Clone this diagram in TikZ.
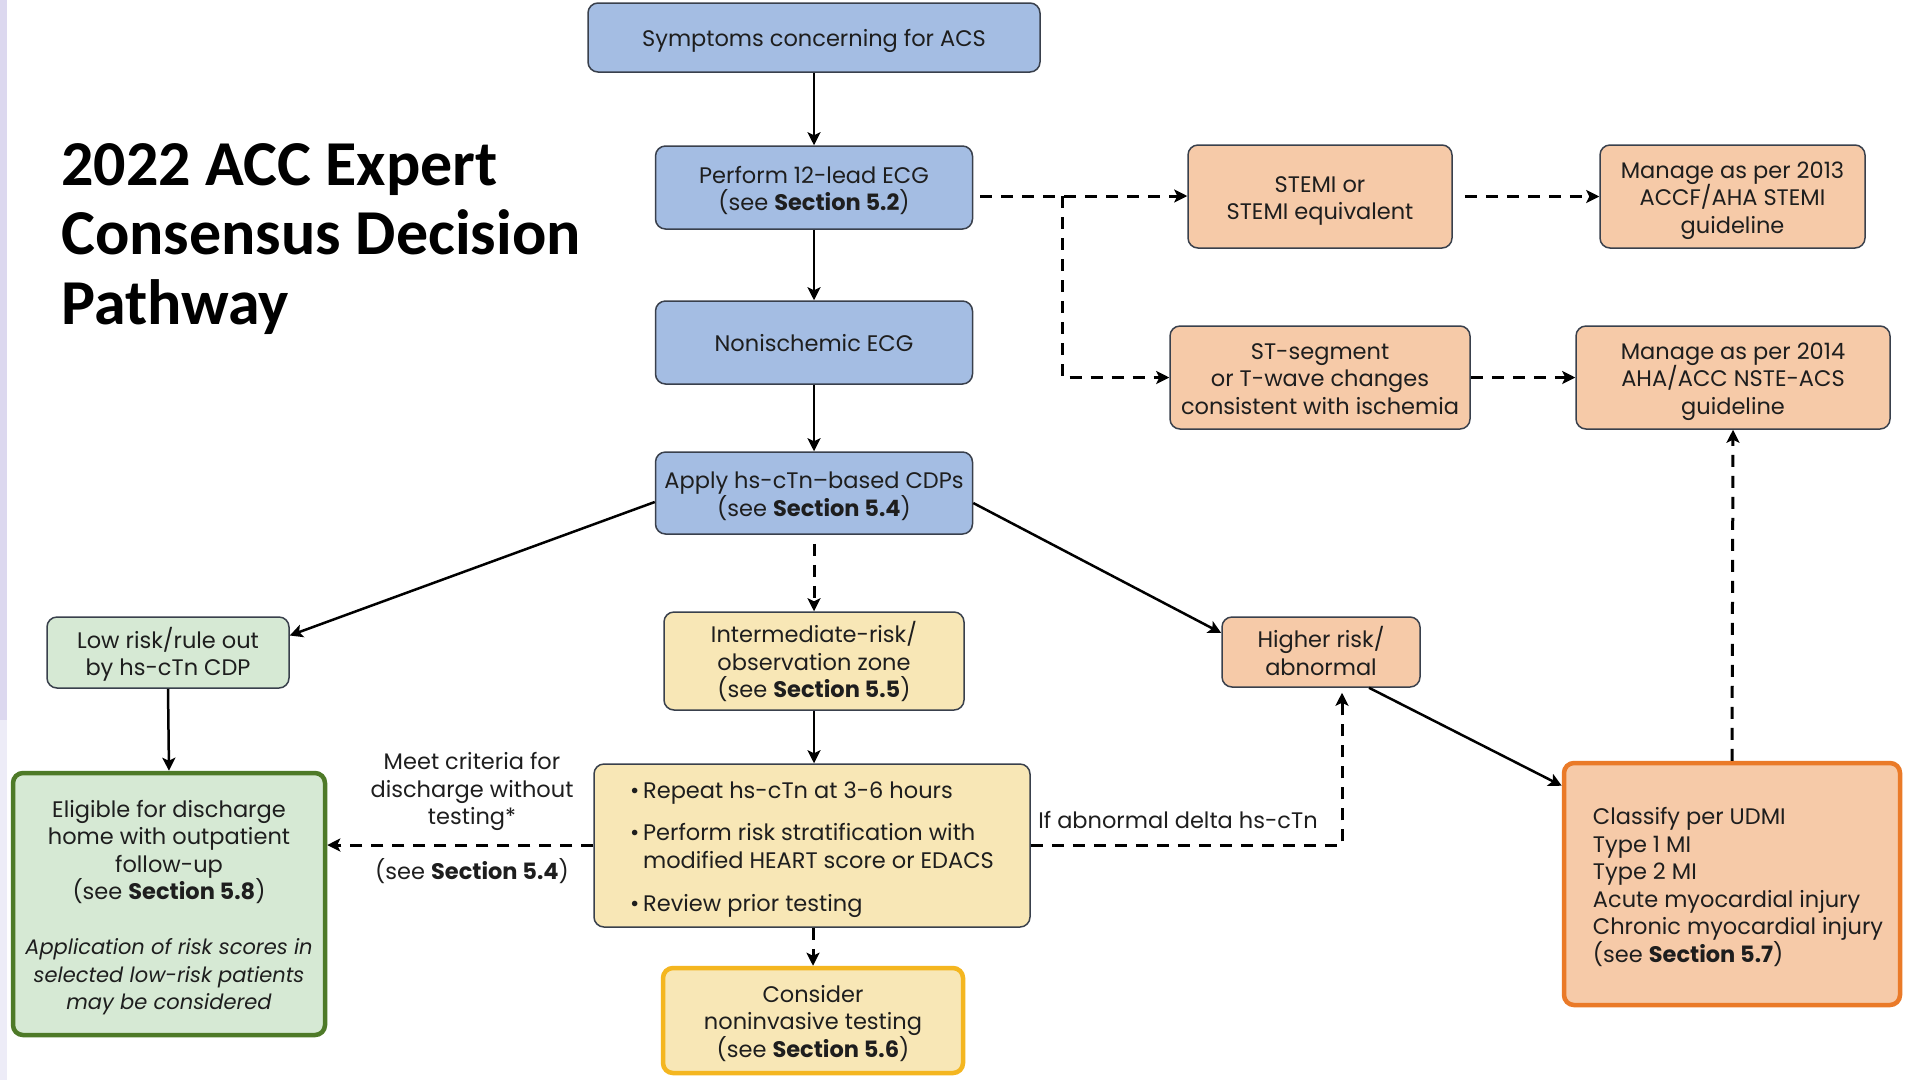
\documentclass[tikz,border=0pt]{standalone}
\usepackage{fontspec}
\setmainfont{Poppins}
\newfontfamily\titlefont{Carlito}
\usetikzlibrary{arrows.meta,calc}

\definecolor{bluefill}{HTML}{A4BDE3}
\definecolor{peachfill}{HTML}{F6CAA8}
\definecolor{greenfill}{HTML}{D6E9D4}
\definecolor{yellowfill}{HTML}{F8E7B6}
\definecolor{thinline}{HTML}{39404C}
\definecolor{greenline}{HTML}{4E7A28}
\definecolor{goldline}{HTML}{F4B620}
\definecolor{orangeline}{HTML}{EA7A28}
\definecolor{inkcol}{HTML}{1E1E1E}
\definecolor{stripcol}{HTML}{DCD8EF}

\newcommand\boxfont{\fontsize{22.5}{27.5}\selectfont}
\newcommand\notefont{\fontsize{21}{27.5}\selectfont\itshape}
% struts giving every text block the same top and bottom
\newcommand\ts{\rule{0pt}{25pt}}
\newcommand\botstrut{\rule[-6.2pt]{0pt}{6.2pt}}

\begin{document}
\begin{tikzpicture}[x=1pt,y=-1pt,
  box/.style={draw=thinline, line width=1.5pt, rounded corners=10pt,
    align=center, inner sep=0pt, font=\boxfont, text=inkcol,
    execute at end node=\botstrut},
  bluebox/.style={box, fill=bluefill},
  peachbox/.style={box, fill=peachfill},
  greenbox/.style={box, fill=greenfill},
  yellowbox/.style={box, fill=yellowfill},
  lbl/.style={align=center, inner sep=0pt, font=\boxfont, text=inkcol,
    execute at end node=\botstrut},
  arr/.style={line width=2.5pt, draw=black,
    -{Stealth[length=13pt,width=13pt,inset=3pt]}},
  dsh/.style={line width=3pt, draw=black, dash pattern=on 12pt off 9pt,
    -{Stealth[length=13pt,width=13pt,inset=3pt]}}
]
\useasboundingbox (0,0) rectangle (1905,1080);
\fill[white] (0,0) rectangle (1905,1080);
% lavender edge strip
\fill[stripcol] (0,0) rectangle (7,720);
\fill[stripcol!50] (0,720) rectangle (7,1080);

% title
\node[anchor=north west, align=left, inner sep=0pt, text=black,
  font=\titlefont\bfseries\fontsize{64}{69.5}\selectfont] (title) at (61,143)
  {2022 ACC Expert\\Consensus Decision\\Pathway};

% main column
\node[bluebox, minimum width=452pt, minimum height=69pt] (sym) at (814,37.5)
  {\ts Symptoms concerning for ACS};
\node[bluebox, minimum width=317pt, minimum height=83pt] (ecg) at (814,187.5)
  {\ts Perform 12-lead ECG\\(see \textbf{Section 5.2})};
\node[bluebox, minimum width=317pt, minimum height=83pt] (noni) at (814,342.5)
  {\ts Nonischemic ECG};
\node[bluebox, minimum width=317pt, minimum height=82pt] (apply) at (814,493)
  {\ts Apply hs-cTn--based CDPs\\(see \textbf{Section 5.4})};
\node[yellowbox, minimum width=300pt, minimum height=98pt] (inter) at (814,661)
  {\ts Intermediate-risk/\\observation zone\\(see \textbf{Section 5.5})};
\node[yellowbox, minimum width=436pt, minimum height=163pt, align=left] (bullets) at (812,845.5)
  {\ts\textbullet\,Repeat hs-cTn at 3-6 hours\\[15pt]
   \textbullet\,Perform risk stratification with\\
   \phantom{\textbullet\,}modified HEART score or EDACS\hspace*{26pt}\\[16pt]
   \textbullet\,Review prior testing};
\node[yellowbox, draw=goldline, line width=4.5pt, minimum width=300pt, minimum height=105pt] (consider) at (813,1020.5)
  {\ts Consider\\noninvasive testing\\(see \textbf{Section 5.6})};

% low-risk branch
\node[greenbox, minimum width=242pt, minimum height=71pt] (low) at (168,652.5)
  {\ts Low risk/rule out\\by hs-cTn CDP};
\node[greenbox, draw=greenline, line width=4.5pt, minimum width=312pt, minimum height=262pt] (elig) at (169,904)
  {\ts Eligible for discharge\\home with outpatient\\follow-up\\(see \textbf{Section 5.8})\\[27.5pt]
   {\notefont Application of risk scores in}\\{\notefont selected low-risk patients}\\{\notefont may be considered}};

% high-risk branch
\node[peachbox, minimum width=198pt, minimum height=70pt] (higher) at (1321,652)
  {\ts Higher risk/\\abnormal};
\node[peachbox, draw=orangeline, line width=4.5pt, minimum width=336pt, minimum height=242pt, align=left] (classify) at (1732,884)
  {\ts\hspace*{12pt}Classify per UDMI\\\hspace*{12pt}Type 1 MI\\\hspace*{12pt}Type 2 MI\\\hspace*{12pt}Acute myocardial injury\\\hspace*{12pt}Chronic myocardial injury\\\hspace*{12pt}(see \textbf{Section 5.7})};

% ischemic ECG branch
\node[peachbox, minimum width=264pt, minimum height=103pt] (stemi) at (1320,196.5)
  {\ts STEMI or\\STEMI equivalent};
\node[peachbox, minimum width=265pt, minimum height=103pt] (man13) at (1732.5,196.5)
  {\ts Manage as per 2013\\ACCF/AHA STEMI\\guideline};
\node[peachbox, minimum width=300pt, minimum height=103pt] (stseg) at (1320,377.5)
  {\ts ST-segment\\or T-wave changes\\consistent with ischemia};
\node[peachbox, minimum width=314pt, minimum height=103pt] (man14) at (1733,377.5)
  {\ts Manage as per 2014\\AHA/ACC NSTE-ACS\\guideline};

% connector labels
\node[lbl] (meet) at (472,788) {\ts Meet criteria for\\discharge without\\testing*};
\node[lbl] (see54) at (472,870) {\ts(see \textbf{Section 5.4})};
\node[lbl] (ifab) at (1178,819) {\ts If abnormal delta hs-cTn};

% solid connectors
\draw[arr] (sym.south) -- (ecg.north);
\draw[arr] (ecg.south) -- (noni.north);
\draw[arr] (noni.south) -- (apply.north);
\draw[arr] ([yshift=-9pt]apply.west) -- ([yshift=17pt]low.east);
\draw[arr] ([yshift=-10pt]apply.east) -- ([yshift=19pt]higher.west);
\draw[arr] (low.south) -- (elig.north);
\draw[arr] (inter.south) -- (bullets.north -| inter.south);
\draw[arr] ([xshift=48pt]higher.south) -- ([yshift=-25pt]classify.north west);

% dashed connectors
\coordinate (fork) at (1062,196);
\coordinate (turn) at (1342,845);
\draw[dsh, shorten <=7pt] (ecg.east |- fork) -- (stemi.west |- fork);
\draw[dsh] (fork) |- (stseg.west);
\draw[dsh, shorten <=12pt] (stemi.east) -- (man13.west);
\draw[dsh] (stseg.east) -- (man14.west);
\draw[dsh, shorten <=9pt] (apply.south) -- (inter.north);
\draw[dsh] (bullets.south -| consider.north) -- (consider.north);
\draw[dsh] (bullets.west |- turn) -- (elig.east |- turn);
\draw[dsh] (bullets.east |- turn) -- (turn) -- ($(turn |- higher.south)+(0,5)$);
\draw[dsh] (classify.north) -- (man14.south);
\end{tikzpicture}
\end{document}
